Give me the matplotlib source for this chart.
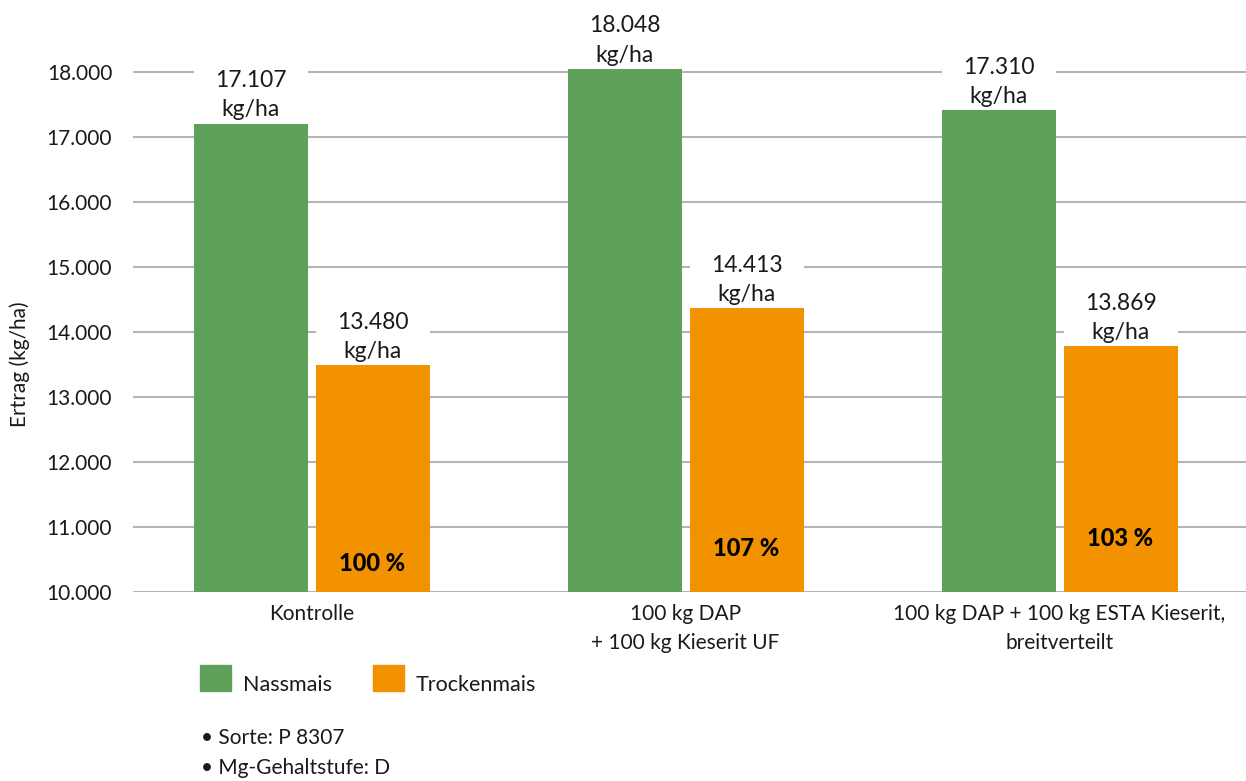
import numpy as np
import matplotlib
matplotlib.use("Agg")
import matplotlib.pyplot as plt
from matplotlib.patches import Patch

plt.rcParams['font.family'] = ['Lato', 'DejaVu Sans']

# data
categories = ["Kontrolle",
              "100 kg DAP\n+ 100 kg Kieserit UF",
              "100 kg DAP + 100 kg ESTA Kieserit,\nbreitverteilt"]
nass = [17206, 18046, 17411]          # bar heights as drawn
trocken = [13488, 14365, 13780]
nass_labels = ["17.107", "18.048", "17.310"]
trocken_labels = ["13.480", "14.413", "13.869"]
pct_labels = ["100 %", "107 %", "103 %"]
notes = ["• Sorte: P 8307", "• Mg-Gehaltstufe: D"]

green = "#5fa05a"
orange = "#f39200"

W, H = 1246, 781
fig = plt.figure(figsize=(W / 100, H / 100), dpi=100)
ax = fig.add_axes([133 / W, 1 - 592 / H, 1 - 133 / W, (592 - 39.5) / H])

x = np.arange(len(categories))
bw = 114 / 374
gap = 8 / 374
off = (bw + gap) / 2

ax.bar(x - off, nass, bw, color=green, zorder=2)
ax.bar(x + off, trocken, bw, color=orange, zorder=2)

# white boxes behind the value labels (they cut the grid lines)
ax.bar(x - off, 950, bw, bottom=nass, color="white", zorder=1.5)
ax.bar(x + off, 950, bw, bottom=trocken, color="white", zorder=1.5)

for xi, v, lab in zip(x - off, nass, nass_labels):
    ax.text(xi, v + 50, lab + "\nkg/ha", ha="center", va="bottom",
            fontsize=16.5, linespacing=1.5, color="#1a1a1a", zorder=3, clip_on=False)
for xi, v, lab in zip(x + off, trocken, trocken_labels):
    ax.text(xi, v + 50, lab + "\nkg/ha", ha="center", va="bottom",
            fontsize=16.5, linespacing=1.5, color="#1a1a1a", zorder=3)

pct_y = [10440, 10670, 10830]
for xi, yy, lab in zip(x + off, pct_y, pct_labels):
    ax.text(xi, yy, lab, ha="center", va="center", fontsize=17,
            fontweight=900, color="black", zorder=3)

ax.set_xlim((133 - 311.5) / 374, (W - 311.5) / 374)
ax.set_ylim(10000, 18500)
ax.set_yticks(np.arange(10000, 18001, 1000))
ax.set_yticklabels([f"{v // 1000}.000" for v in range(10000, 18001, 1000)])
ax.set_xticks(x)
ax.set_xticklabels(categories, linespacing=1.55)
ax.tick_params(axis="both", length=0, labelsize=15, colors="#1a1a1a")
ax.tick_params(axis="y", pad=15)
ax.tick_params(axis="x", pad=9)
ax.grid(axis="y", color="#b5b5b5", linewidth=1.5)
ax.set_axisbelow(True)
for s in ax.spines.values():
    s.set_visible(False)

fig.text(20 / W, 1 - 364 / H, "Ertrag (kg/ha)", rotation=90, ha="center",
         va="center", fontsize=15, color="#1a1a1a")

handles = [Patch(color=green, label="Nassmais"), Patch(color=orange, label="Trockenmais")]
leg = fig.legend(handles=handles, loc="upper left", bbox_to_anchor=(200 / W, 1 - 665 / H),
                 ncol=2, frameon=False, fontsize=15.5, handlelength=1.45, handleheight=1.45,
                 handletextpad=0.55, columnspacing=1.9, borderpad=0, borderaxespad=0)
for t in leg.get_texts():
    t.set_color("#1a1a1a")
    t.set_y(-6)

for i, n in enumerate(notes):
    fig.text(201 / W, 1 - (738 + 30 * i) / H, n, ha="left", va="center",
             fontsize=15, color="#1a1a1a")

fig.savefig("out.png", dpi=100)
